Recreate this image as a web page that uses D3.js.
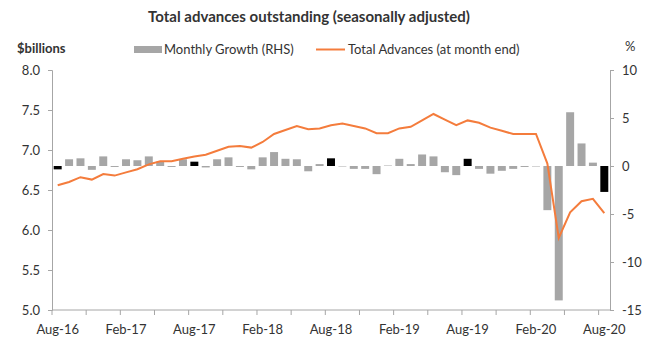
<!DOCTYPE html>
<html>
<head>
<meta charset="utf-8">
<script src="https://cdn.jsdelivr.net/npm/d3@7"></script>
<style>
  body { margin: 0; background: #fff; }
  svg text { font-family: Lato, "Open Sans", sans-serif; fill: #333; }
</style>
</head>
<body>
<div id="chart"></div>
<script>
const months = ["Aug-16","Sep-16","Oct-16","Nov-16","Dec-16",
  "Jan-17","Feb-17","Mar-17","Apr-17","May-17","Jun-17","Jul-17","Aug-17","Sep-17","Oct-17","Nov-17","Dec-17",
  "Jan-18","Feb-18","Mar-18","Apr-18","May-18","Jun-18","Jul-18","Aug-18","Sep-18","Oct-18","Nov-18","Dec-18",
  "Jan-19","Feb-19","Mar-19","Apr-19","May-19","Jun-19","Jul-19","Aug-19","Sep-19","Oct-19","Nov-19","Dec-19",
  "Jan-20","Feb-20","Mar-20","Apr-20","May-20","Jun-20","Jul-20","Aug-20"];

// monthly growth, % (RHS)
const growth = [-0.35, 0.7, 0.8, -0.4, 1.0, -0.1, 0.7, 0.6, 1.0, 0.45, -0.1, 0.7, 0.45, -0.15, 0.7, 0.9, -0.1,
  -0.35, 0.9, 1.45, 0.75, 0.7, -0.55, 0.2, 0.8, -0.05, -0.3, -0.3, -0.85, 0.05, 0.75, 0.2, 1.2, 1.0, -0.65,
  -0.95, 0.75, -0.3, -0.8, -0.5, -0.3, -0.1, -0.05, -4.6, -14.0, 5.6, 2.35, 0.35, -2.7];

// total advances at month end, $billions (LHS)
const advances = [6.56, 6.60, 6.66, 6.63, 6.70, 6.68, 6.72, 6.76, 6.82, 6.86, 6.86, 6.89, 6.92, 6.94, 6.99, 7.04, 7.05,
  7.03, 7.10, 7.20, 7.25, 7.30, 7.26, 7.27, 7.31, 7.33, 7.30, 7.27, 7.21, 7.21, 7.27, 7.29, 7.37, 7.45, 7.38,
  7.31, 7.37, 7.34, 7.28, 7.24, 7.20, 7.20, 7.20, 6.83, 5.90, 6.22, 6.36, 6.39, 6.21];

const tickLabels = ["Aug-16","Feb-17","Aug-17","Feb-18","Aug-18","Feb-19","Aug-19","Feb-20","Aug-20"];
const leftTicks = [5.0, 5.5, 6.0, 6.5, 7.0, 7.5, 8.0];
const rightTicks = [-15, -10, -5, 0, 5, 10];

const W = 654, H = 353;
const margin = { top: 70, right: 44, bottom: 43, left: 52 };
const width = W - margin.left - margin.right,
      height = H - margin.top - margin.bottom;

const svg = d3.select("#chart").append("svg")
  .attr("width", W).attr("height", H);

const g = svg.append("g")
  .attr("transform", `translate(${margin.left},${margin.top})`);

const x = d3.scaleBand().domain(months).range([0, width]).paddingInner(0.3).paddingOuter(0.15);
const yL = d3.scaleLinear().domain([5, 8]).range([height, 0]);
const yR = d3.scaleLinear().domain([-15, 10]).range([height, 0]);

// bars
g.selectAll(".bar")
  .data(months.map((m, i) => ({ m, v: growth[i] })))
  .enter().append("rect")
  .attr("class", "bar")
  .attr("x", d => x(d.m))
  .attr("width", x.bandwidth())
  .attr("y", d => yR(Math.max(0, d.v)))
  .attr("height", d => Math.abs(yR(d.v) - yR(0)))
  .attr("fill", d => d.m.startsWith("Aug") ? "#000" : "#a6a6a6");

// line
const line = d3.line()
  .x((d, i) => x(months[i]) + x.bandwidth() / 2)
  .y(d => yL(d));

g.append("path")
  .datum(advances)
  .attr("fill", "none")
  .attr("stroke", "#f47c3c")
  .attr("stroke-width", 2)
  .attr("d", line);

// axes
const axisColor = "#a6a6a6";

const left = g.append("g")
  .call(d3.axisLeft(yL).tickValues(leftTicks).tickFormat(d3.format(".1f")).tickSize(4).tickPadding(8));
const right = g.append("g")
  .attr("transform", `translate(${width},0)`)
  .call(d3.axisRight(yR).tickValues(rightTicks).tickSize(4).tickPadding(8)
    .tickFormat(d => d));

[left, right].forEach(a => {
  a.select(".domain").attr("stroke", axisColor);
  a.selectAll(".tick line").attr("stroke", axisColor);
  a.selectAll(".tick text").style("font-size", "13px").attr("fill", "#333");
});

// x axis: ticks every 3 months at band edges, labels every 6 months
const bottom = g.append("g").attr("transform", `translate(0,${height})`);
bottom.append("line")
  .attr("x1", 0).attr("x2", width)
  .attr("stroke", axisColor);
bottom.selectAll(".xt")
  .data(months.filter((m, i) => i % 3 === 0))
  .enter().append("line")
  .attr("x1", d => months.indexOf(d) * width / months.length)
  .attr("x2", d => months.indexOf(d) * width / months.length)
  .attr("y1", 0).attr("y2", 5)
  .attr("stroke", axisColor);
bottom.selectAll(".xl")
  .data(tickLabels)
  .enter().append("text")
  .attr("x", d => x(d) + x.bandwidth() / 2)
  .attr("y", 24)
  .attr("text-anchor", "middle")
  .style("font-size", "13px")
  .text(d => d);

// title and legend
svg.append("text")
  .attr("x", 309).attr("y", 22)
  .attr("text-anchor", "middle")
  .style("font-size", "15px").style("font-weight", "bold")
  .attr("fill", "#1a1a1a")
  .text("Total advances outstanding (seasonally adjusted)");

svg.append("text")
  .attr("x", 17).attr("y", 53)
  .style("font-size", "13px").style("font-weight", "bold")
  .attr("fill", "#1a1a1a")
  .text("$billions");

svg.append("text")
  .attr("x", 625).attr("y", 51)
  .style("font-size", "13px")
  .text("%");

const legend = svg.append("g");
legend.append("rect")
  .attr("x", 134).attr("y", 46).attr("width", 28).attr("height", 7)
  .attr("fill", "#a6a6a6");
legend.append("text")
  .attr("x", 164).attr("y", 54)
  .style("font-size", "13px")
  .text("Monthly Growth (RHS)");
legend.append("line")
  .attr("x1", 316).attr("x2", 345).attr("y1", 49.5).attr("y2", 49.5)
  .attr("stroke", "#f47c3c").attr("stroke-width", 2);
legend.append("text")
  .attr("x", 348).attr("y", 54)
  .style("font-size", "13px")
  .text("Total Advances (at month end)");
</script>
</body>
</html>
